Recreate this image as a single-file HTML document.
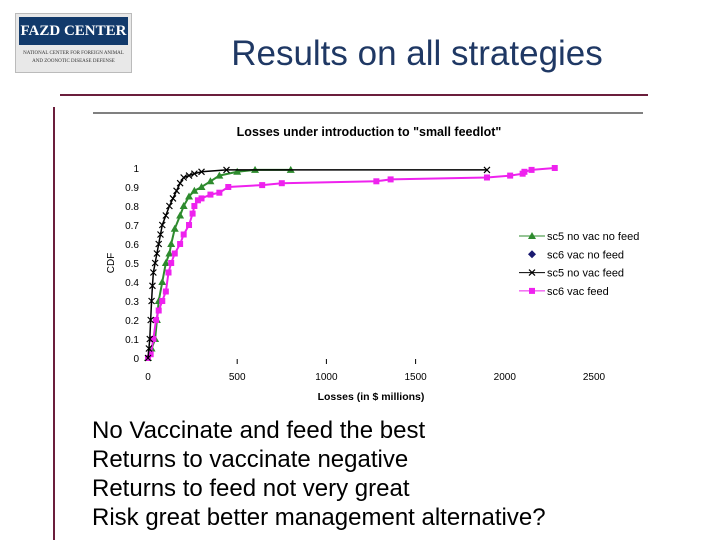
<!DOCTYPE html>
<html><head><meta charset="utf-8"><style>
body{margin:0;width:720px;height:540px;background:#fff;position:relative;overflow:hidden;font-family:"Liberation Sans",sans-serif}
.abs{position:absolute}
</style></head><body>
<div class="abs" style="left:15px;top:13px;width:115px;height:58px;background:#e8e8e8;border:1px solid #bbb">
 <div style="position:absolute;left:3px;top:3px;width:109px;height:28px;background:#123a6b;color:#fff;font-family:'Liberation Serif',serif;font-weight:bold;font-size:15px;text-align:center;line-height:28px">FAZD CENTER</div>
 <div style="position:absolute;left:2px;top:36px;width:111px;font-family:'Liberation Serif',serif;font-size:5px;text-align:center;color:#333;line-height:8px">NATIONAL CENTER FOR FOREIGN ANIMAL<br>AND ZOONOTIC DISEASE DEFENSE</div>
</div>
<div class="abs" style="left:180px;top:34px;width:474px;text-align:center;font-size:35px;color:#1f3864">Results on all strategies</div>
<div class="abs" style="left:60px;top:94px;width:588px;height:2px;background:#6b1e3c"></div>
<div class="abs" style="left:53px;top:107px;width:2px;height:433px;background:#6b1e3c"></div>
<svg class="abs" style="left:0;top:0" width="720" height="540">
 <line x1="93" y1="113" x2="643" y2="113" stroke="#000" stroke-width="1"/>
 <text x="369" y="136" text-anchor="middle" font-size="12.5" font-weight="bold" font-family="Liberation Sans">Losses under introduction to "small feedlot"</text>
 <text transform="translate(114,263) rotate(-90)" text-anchor="middle" font-size="10" font-family="Liberation Sans">CDF</text>
 <text x="371" y="400" text-anchor="middle" font-size="10.5" font-weight="bold" font-family="Liberation Sans">Losses (in $ millions)</text>
 <g id="ticks"></g><g id="series"></g><g id="legend"></g>
</svg>
<div class="abs" style="left:92px;top:416px;font-size:24px;line-height:29px;color:#000">
 <div>No Vaccinate and feed the best</div>
 <div>Returns to vaccinate negative</div>
 <div>Returns to feed not very great</div>
 <div>Risk great better management alternative?</div>
</div>
<script>
const xTicks=[0,500,1000,1500,2000,2500];
const yTicks=[0,0.1,0.2,0.3,0.4,0.5,0.6,0.7,0.8,0.9,1];
const yTickLabels=["0","0.1","0.2","0.3","0.4","0.5","0.6","0.7","0.8","0.9","1"];
const greenX=[0,20,40,50,60,80,100,120,130,150,180,200,230,260,300,350,400,500,600,800];
const greenY=[0,0.05,0.1,0.2,0.3,0.4,0.5,0.55,0.6,0.68,0.75,0.8,0.85,0.88,0.9,0.93,0.96,0.98,0.99,0.99];
const blackX=[0,5,10,15,20,25,30,40,50,60,70,80,100,120,140,160,180,200,230,260,300,440,1900];
const blackY=[0,0.05,0.1,0.2,0.3,0.38,0.45,0.5,0.55,0.6,0.65,0.7,0.75,0.8,0.84,0.88,0.92,0.95,0.96,0.97,0.98,0.99,0.99];
const magX=[0,15,30,45,60,80,100,115,130,150,180,200,230,250,260,280,300,350,400,450,640,750,1280,1360,1900,2030,2100,2110,2150,2280];
const magY=[0,0.02,0.1,0.2,0.25,0.3,0.35,0.45,0.5,0.55,0.6,0.65,0.7,0.76,0.8,0.83,0.84,0.86,0.87,0.9,0.91,0.92,0.93,0.94,0.95,0.96,0.97,0.98,0.99,1.0];
const legendLabels=["sc5 no vac no feed","sc6 vac no feed","sc5 no vac feed","sc6 vac feed"];
const NS="http://www.w3.org/2000/svg";
const xs=v=>148+v*(594-148)/2500, ys=v=>358-v*190;
function mk(tag,attrs,parent){const e=document.createElementNS(NS,tag);for(const k in attrs)e.setAttribute(k,attrs[k]);parent.appendChild(e);return e;}
const tg=document.getElementById('ticks');
xTicks.forEach((t,i)=>{
 const e=mk('text',{x:xs(t),y:380,'text-anchor':'middle','font-size':10,'font-family':'Liberation Sans'},tg);e.textContent=t;
 
 
 if(t>0&&t<2000){const l=mk('line',{x1:xs(t),x2:xs(t),y1:359,y2:364,stroke:'#000'},tg);
 
 }
});
yTicks.forEach((t,i)=>{
 const e=mk('text',{x:139,y:ys(t)+4,'text-anchor':'end','font-size':10,'font-family':'Liberation Sans'},tg);e.textContent=yTickLabels[i];
 
 
});
const sg=document.getElementById('series');
function series(X,Y,color,marker,name,w){
 const g=mk('g',{},sg);
 
 
 mk('polyline',{points:X.map((x,i)=>xs(x)+','+ys(Y[i])).join(' '),fill:'none',stroke:color,'stroke-width':w},g);
 X.forEach((x,i)=>drawMarker(g,marker,xs(x),ys(Y[i]),color));
}
function drawMarker(g,m,cx,cy,c){
 let e;
 if(m==='tri')e=mk('polygon',{points:`${cx},${cy-4} ${cx-4},${cy+3} ${cx+4},${cy+3}`,fill:c},g);
 else if(m==='sq')e=mk('rect',{x:cx-3,y:cy-3,width:6,height:6,fill:c},g);
 else if(m==='dia')e=mk('polygon',{points:`${cx},${cy-4} ${cx+4},${cy} ${cx},${cy+4} ${cx-4},${cy}`,fill:c},g);
 else e=mk('path',{d:`M${cx-3},${cy-3}L${cx+3},${cy+3}M${cx-3},${cy+3}L${cx+3},${cy-3}`,stroke:c,'stroke-width':1.2},g);
 
 
}
series(greenX,greenY,'#2e8b2e','tri','series-sc5-no-vac-no-feed',2);
series(magX,magY,'#ee22ee','sq','series-sc6-vac-feed',2);
series(blackX,blackY,'#000','x','series-sc5-no-vac-feed',1.5);
const lg=document.getElementById('legend');
const lc=[['#2e8b2e','tri',true],['#1a1a70','dia',false],['#000','x',true],['#ee22ee','sq',true]];
legendLabels.forEach((lab,i)=>{
 const y=236+i*18.3;
 const g=mk('g',{},lg);
 
 
 if(lc[i][2])mk('line',{x1:519,x2:545,y1:y,y2:y,stroke:lc[i][0],'stroke-width':1},g);
 drawMarker(g,lc[i][1],532,y,lc[i][0]);
 const t=mk('text',{x:547,y:y+4,'font-size':11,'font-family':'Liberation Sans'},g);t.textContent=lab;
});
</script>
</body></html>
